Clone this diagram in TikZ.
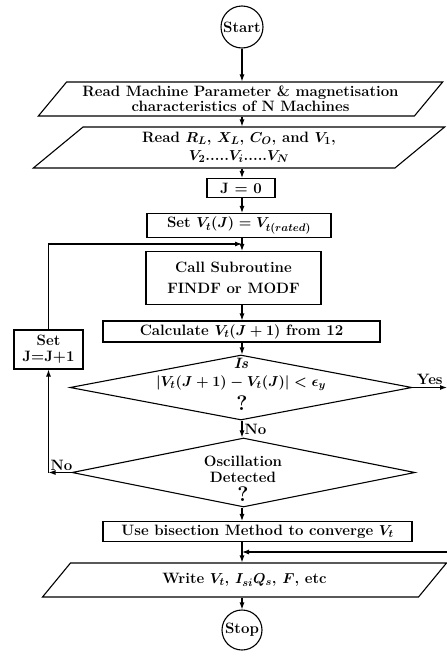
\documentclass[tikz,border=0pt]{standalone}
\usetikzlibrary{shapes.geometric,arrows.meta,calc}
\tikzset{
  base/.style={draw,line width=1.1pt,font=\fontsize{15}{18}\selectfont\bfseries\boldmath,inner sep=0pt,align=center},
  terminal/.style={base,circle},
  iobox/.style={base,trapezium,trapezium left angle=45,trapezium right angle=135,trapezium stretches=true},
  procbox/.style={base,rectangle},
  decision/.style={base,diamond},
  flow/.style={->,line width=1.1pt},
  lbl/.style={font=\fontsize{15}{18}\selectfont\bfseries\boldmath,inner sep=2pt},
  dtext/.style={lbl,inner sep=0pt},
  qmark/.style={font=\fontsize{21}{21}\selectfont\bfseries,inner sep=0pt},
  >={Latex[length=7pt,width=5pt]}
}
\begin{document}
\begin{tikzpicture}[x=1pt,y=-1pt]
\useasboundingbox (0,0) rectangle (447,656);

% main chain
\node[terminal,minimum size=42pt] (start) at (242,27) {Start};
\node[iobox,minimum width=405pt,minimum height=34pt] (params) at (240.5,99)
  {Read Machine Parameter \& magnetisation\\[-3pt]characteristics of N Machines};
\node[iobox,minimum width=412pt,minimum height=41pt] (inputs) at (239,147.5)
  {Read $R_L$, $X_L$, $C_O$, and $V_1$,\\$V_2$.....$V_i$.....$V_N$};
\node[procbox,minimum width=68pt,minimum height=19pt] (jinit) at (241,188) {J = 0};
\node[procbox,minimum width=184pt,minimum height=24pt] (setv) at (239,225.5) {Set $V_t(J) = V_{t(rated)}$};
\node[procbox,minimum width=175pt,minimum height=53pt] (call) at (233.5,278)
  {Call Subroutine\\[3pt]FINDF or MODF};
\node[procbox,minimum width=277pt,minimum height=21pt] (calc) at (241.5,331.5) {Calculate $V_t(J+1)$ from 12};

% decisions, texts set line by line
\node[decision,minimum width=342pt,minimum height=65pt] (d1) at (241,387.5) {};
\node[dtext] (d1is) at (241,363) {\textit{Is}};
\node[dtext] (d1cond) at (241,383) {$|V_t(J+1) - V_t(J)| < \epsilon_y$};
\node[qmark] (d1q) at (242,403) {?};
\node[decision,minimum width=343pt,minimum height=69pt] (d2) at (243.5,472.5) {};
\node[dtext] (d2osc) at (243,461) {Oscillation};
\node[dtext] (d2det) at (243,477) {Detected};
\node[qmark] (d2q) at (243,494) {?};

\node[procbox,minimum width=69pt,minimum height=39pt] (setj) at (48.5,349.5) {Set\\[-2pt]J=J+1};
\node[procbox,minimum width=309pt,minimum height=20pt] (bisect) at (257.5,531.5)
  {Use bisection Method to converge $V_t$};
\node[iobox,minimum width=405pt,minimum height=34pt] (output) at (244.5,580)
  {Write $V_t$, $I_{si}Q_s$, $F$, etc};
\node[terminal,minimum size=40pt] (stop) at (242,630) {Stop};

\coordinate (loopin) at (242,244);
\coordinate (yesout) at (447,387.5);
\coordinate (yesin) at (447,552);
\coordinate (nocorner) at (setj.south |- d2.west);

% connectors
\draw[flow] (start) -- (start |- params.north);
\draw[flow] (params.south -| start) -- (inputs.north -| start);
\draw[flow] (inputs.south -| start) -- (jinit.north -| start);
\draw[flow] (jinit.south -| start) -- (setv.north -| start);
\draw[flow] (setv.south -| start) -- (call.north -| start);
\draw[flow] (call.south -| start) -- (calc.north -| start);
\draw[flow] (calc.south -| start) -- (d1.north -| start);
\draw[flow] (d1.south -| start) -- node[lbl,right] (nolbl) {No} (d2.north -| start);
\draw[flow] (d2.south -| start) -- (bisect.north -| start);
\draw[flow] (bisect.south -| start) -- (output.north -| start);
\draw[flow] (output.south -| start) -- (stop);
\draw[flow] (d1.east) -- node[lbl,above] (yeslbl) {Yes} (yesout);
\draw[flow] (yesin) -- (yesin -| start);
\draw[flow] (d2.west) -- (nocorner);
\node[lbl,above right] (nolbl2) at (nocorner) {No};
\draw[flow] (nocorner) -- (setj.south);
\draw[flow] (setj.north) |- (loopin);
\end{tikzpicture}
\end{document}
